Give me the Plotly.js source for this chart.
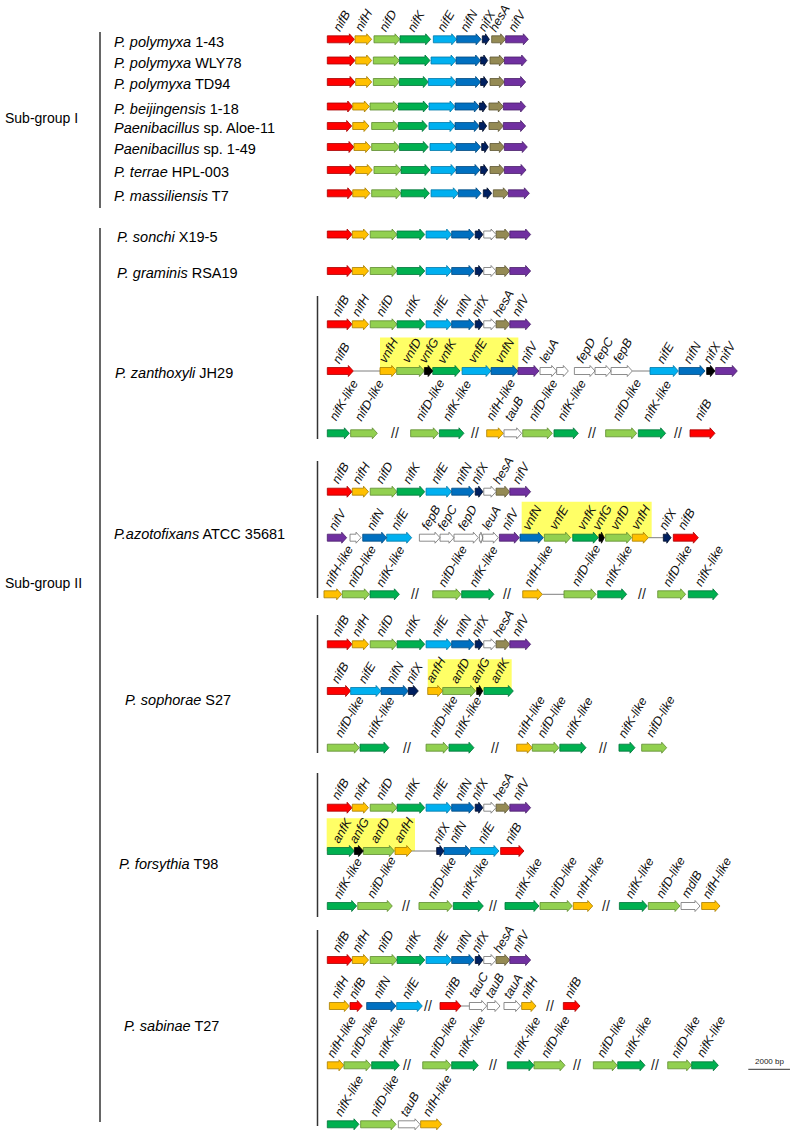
<!DOCTYPE html>
<html><head><meta charset="utf-8">
<script src="https://cdn.plot.ly/plotly-3.0.1.min.js"></script>
<style>html,body{margin:0;padding:0;background:#fff}</style>
</head><body><div id="chart" style="width:797px;height:1136px"></div>
<script>
// ---------------- DATA (gene coordinates in bp, relative to cluster start) ----------------
// Sub-group I: nifB nifH nifD nifK nifE nifN nifX hesA nifV
const SG1_GENES = ["nifB","nifH","nifD","nifK","nifE","nifN","nifX","hesA","nifV"];
const SG1_KINDS = "BHDKENXAV";
const POLY143_START = [0,1330,2240,3490,5090,6210,7440,7890,8560];
const POLY143_END   = [1300,2130,3490,4960,6210,7380,7780,8560,9650];
const WLY78_START = [0,1360,2210,3460,4980,6180,7360,7810,8500];
const WLY78_END   = [1330,2130,3460,4930,6180,7360,7700,8500,9570];
const TD94_START = [0,1360,2210,3460,4850,6180,7360,7810,8500];
const TD94_END   = [1330,2130,3460,4850,6180,7360,7700,8500,9520];
const BEIJ_START = [0,1220,2050,3410,4880,6130,7300,7760,8450];
const BEIJ_END   = [1220,2020,3410,4850,6130,7300,7650,8450,9520];
const ALOE_START = [0,1220,2130,3410,4880,6130,7300,7760,8450];
const ALOE_END   = [1170,2000,3410,4800,6130,7300,7650,8450,9520];
const SP149_START = [0,1280,2130,3460,4930,6180,7410,7810,8500];
const SP149_END   = [1280,2080,3460,4850,6180,7360,7730,8500,9600];
const TERRAE_START = [0,1360,2240,3540,4980,6180,7360,7810,8500];
const TERRAE_END   = [1330,2160,3540,4930,6180,7330,7700,8500,9540];
const MASS_START = [0,1220,2130,3540,4980,6290,7490,7970,8690];
const MASS_END   = [1220,2050,3540,4900,6290,7380,7890,8690,9700];

// Sub-group II conserved cluster (with unnamed ORF between nifX and hesA)
const SG2_GENES = ["nifB","nifH","nifD","nifK","nifE","nifN","nifX","","hesA","nifV"];
const SG2_KINDS = "BHDKENXWAV";
const SG2_START = [0,1200,2060,3350,4740,5970,7100,7510,8100,8760];
const SG2_END   = [1190,1980,3350,4680,5970,7040,7470,8100,8760,9760];

// P. zanthoxyli JH29
const ZAN2_GENES = ["nifB","vnfH","vnfD","vnfG","vnfK","vnfE","vnfN","nifV","leuA","","fepD","fepC","fepB","nifE","nifN","nifX","nifV"];
const ZAN2_KINDS = "BHDGKENVWWWWWENGV";
const ZAN2_START = [0,2530,3330,4660,5060,6470,7860,9150,10210,11010,11860,12850,13620,15490,16880,18210,18640];
const ZAN2_END   = [1250,3330,4660,5060,6370,7860,9150,10160,11010,11570,12850,13620,14640,16850,18130,18610,19680];
const ZAN2_LINKS = [[1250,2530],[14640,15490]];
const ZAN2_BOX = [2530,9170];
const ZAN3_GENES = ["nifK-like","nifD-like","nifD-like","nifK-like","nifH-like","tauB","nifD-like","nifK-like","nifD-like","nifK-like","nifB"];
const ZAN3_KINDS = "KDDKHWDKDKB";
const ZAN3_START = [0,1120,4000,5380,7650,8480,9380,10880,13360,14930,17410];
const ZAN3_END   = [1060,2400,5330,6560,8450,9330,10800,12050,14850,16240,18610];
const ZAN3_BREAKS = [3250,7090,12690,16850];

// P. azotofixans ATCC 35681
const AZO2_GENES = ["nifV","","nifN","nifE","fepB","fepC","fepD","","leuA","nifV","vnfN","vnfE","vnfK","vnfG","vnfD","vnfH","nifX","nifB"];
const AZO2_KINDS = "VWNEWWWWWVNDKGDHXB";
const AZO2_START = [0,1090,1700,2850,4420,5410,6080,7300,7460,8260,9250,10420,11780,13040,13360,14640,16130,16610];
const AZO2_END   = [930,1620,2850,4050,5410,6080,7250,7460,8210,9220,10370,11680,13010,13300,14610,15410,16500,17810];
const AZO2_LINKS = [[15410,16130]];
const AZO2_BOX = [9330,15570];
const AZO3_GENES = ["nifH-like","nifD-like","nifK-like","nifD-like","nifK-like","nifH-like","nifD-like","nifK-like","nifD-like","nifK-like"];
const AZO3_KINDS = "HDKDKHDKDK";
const AZO3_START = [-160,720,2050,5060,6450,9380,11360,12980,15860,17330];
const AZO3_END   = [690,2020,3460,6420,8000,10320,12900,14370,17200,18750];
const AZO3_BREAKS = [4210,8640,15090];
const AZO3_LINKS = [[10320,11360]];

// P. sophorae S27
const SOP2_GENES = ["nifB","nifE","nifN","nifX","anfH","anfD","anfG","anfK"];
const SOP2_KINDS = "BENXHDGK";
const SOP2_START = [0,1120,2580,3890,4820,5540,7170,7520];
const SOP2_END   = [1120,2580,3890,4370,5540,7120,7460,8930];
const SOP2_BOX = [4820,8850];
const SOP3_GENES = ["nifD-like","nifK-like","nifD-like","nifK-like","nifH-like","nifD-like","nifK-like","nifK-like","nifD-like"];
const SOP3_KINDS = "DKDKHDKKD";
const SOP3_START = [0,1570,4740,5840,9090,9840,11160,14000,15090];
const SOP3_END   = [1540,2960,5810,7040,9840,11120,12420,14770,16290];
const SOP3_BREAKS = [3810,8050,13250];

// P. forsythia T98
const FOR2_GENES = ["anfK","anfG","anfD","anfH","nifX","nifN","nifE","nifB"];
const FOR2_KINDS = "KGDHXNEB";
const FOR2_START = [0,1300,1730,3250,5250,5600,6880,8320];
const FOR2_END   = [1300,1730,3220,4050,5600,6880,8240,9440];
const FOR2_LINKS = [[4050,5250]];
const FOR2_BOX = [-30,4210];
const FOR3_GENES = ["nifK-like","nifD-like","nifD-like","nifK-like","nifK-like","nifD-like","nifH-like","nifK-like","nifD-like","mdlB","nifH-like"];
const FOR3_KINDS = "KDDKKDHKDWH";
const FOR3_START = [0,1460,4400,6050,8530,10210,11810,14020,15410,16980,17970];
const FOR3_END   = [1410,3120,6000,7490,10160,11760,12740,15360,16930,17890,18850];
const FOR3_BREAKS = [3780,7940,13380];

// P. sabinae T27
const SAB2_GENES = ["nifH","nifB","nifN","nifE","nifB","tauC","tauB","tauA","nifH","nifB"];
const SAB2_KINDS = "HBNEBWWWHB";
const SAB2_START = [100,1090,1890,3330,5410,6820,7680,8480,9330,11330];
const SAB2_END   = [1060,1680,3300,4560,6420,7650,8290,9280,10020,12130];
const SAB2_BREAKS = [4850,10690];
const SAB2_LINKS = [[6420,6820]];
const SAB3_GENES = ["nifH-like","nifD-like","nifK-like","nifD-like","nifK-like","nifK-like","nifD-like","nifD-like","nifK-like","nifD-like","nifK-like"];
const SAB3_KINDS = "HDKDKKDDKDK";
const SAB3_START = [0,800,2130,4580,5970,8640,9920,12770,13940,16340,17490];
const SAB3_END   = [800,2100,3460,5940,7250,9920,11410,13920,15250,17490,18770];
const SAB3_BREAKS = [3840,7940,11970,15730];
const SAB4_GENES = ["nifK-like","nifD-like","tauB","nifH-like"];
const SAB4_KINDS = "KDWH";
const SAB4_START = [0,1600,3410,4480];
const SAB4_END   = [1520,3300,4450,5490];

const SCALE_BP = 2000;
const SCALE_LABEL = "2000 bp";

const SPECIES = ["<i>P. polymyxa</i> 1-43","<i>P. polymyxa</i> WLY78","<i>P. polymyxa</i> TD94","<i>P. beijingensis</i> 1-18",
  "<i>Paenibacillus</i> sp. Aloe-11","<i>Paenibacillus</i> sp. 1-49","<i>P. terrae</i> HPL-003","<i>P. massiliensis</i> T7",
  "<i>P. sonchi</i> X19-5","<i>P. graminis</i> RSA19","<i>P. zanthoxyli</i> JH29","<i>P.azotofixans</i> ATCC 35681",
  "<i>P. sophorae</i> S27","<i>P. forsythia</i> T98","<i>P. sabinae</i> T27"];
const GROUPS = ["Sub-group I","Sub-group II"];

// ---------------- LAYOUT / STYLE ----------------
const W = 797, H = 1136;
const X0PX = 327.3, BP_PER_PX = 48;   // pixel origin of clusters and scale
const FILL = {B:'#ff0000',H:'#ffc000',D:'#92d050',K:'#00b050',E:'#00b0f0',N:'#0070c0',X:'#002060',A:'#948a54',V:'#7030a0',G:'#000000',W:'#ffffff'};
const EDGE = {B:'#a80000',H:'#a67c00',D:'#5e8c30',K:'#00733a',E:'#0078a8',N:'#004a80',X:'#000c28',A:'#5e5735',V:'#4a1f6b',G:'#000000',W:'#707070'};

function row(genes,kinds,start,end,y,opts){return Object.assign({genes,kinds,start,end,y,labels:false,gap:-1.5},opts||{});}
const rows = [
  row(SG1_GENES,SG1_KINDS,POLY143_START,POLY143_END,39.3,{labels:true}),
  row(SG1_GENES,SG1_KINDS,WLY78_START,WLY78_END,60.5),
  row(SG1_GENES,SG1_KINDS,TD94_START,TD94_END,82),
  row(SG1_GENES,SG1_KINDS,BEIJ_START,BEIJ_END,106.5),
  row(SG1_GENES,SG1_KINDS,ALOE_START,ALOE_END,126),
  row(SG1_GENES,SG1_KINDS,SP149_START,SP149_END,147),
  row(SG1_GENES,SG1_KINDS,TERRAE_START,TERRAE_END,170),
  row(SG1_GENES,SG1_KINDS,MASS_START,MASS_END,193.3),
  row(SG2_GENES,SG2_KINDS,SG2_START,SG2_END,234.5),
  row(SG2_GENES,SG2_KINDS,SG2_START,SG2_END,271),
  row(SG2_GENES,SG2_KINDS,SG2_START,SG2_END,324.3,{labels:true}),
  row(ZAN2_GENES,ZAN2_KINDS,ZAN2_START,ZAN2_END,371,{labels:true,links:ZAN2_LINKS,box:ZAN2_BOX,boxTop:337.5}),
  row(ZAN3_GENES,ZAN3_KINDS,ZAN3_START,ZAN3_END,433.3,{labels:true,gap:3,breaks:ZAN3_BREAKS}),
  row(SG2_GENES,SG2_KINDS,SG2_START,SG2_END,491.7,{labels:true}),
  row(AZO2_GENES,AZO2_KINDS,AZO2_START,AZO2_END,537.7,{labels:true,links:AZO2_LINKS,box:AZO2_BOX,boxTop:501.7}),
  row(AZO3_GENES,AZO3_KINDS,AZO3_START,AZO3_END,594.3,{labels:true,breaks:AZO3_BREAKS,links:AZO3_LINKS}),
  row(SG2_GENES,SG2_KINDS,SG2_START,SG2_END,644.3,{labels:true}),
  row(SOP2_GENES,SOP2_KINDS,SOP2_START,SOP2_END,691,{labels:true,box:SOP2_BOX,boxTop:659.3}),
  row(SOP3_GENES,SOP3_KINDS,SOP3_START,SOP3_END,747.7,{labels:true,gap:1,breaks:SOP3_BREAKS}),
  row(SG2_GENES,SG2_KINDS,SG2_START,SG2_END,807.7,{labels:true}),
  row(FOR2_GENES,FOR2_KINDS,FOR2_START,FOR2_END,851,{labels:true,links:FOR2_LINKS,box:FOR2_BOX,boxTop:818.3}),
  row(FOR3_GENES,FOR3_KINDS,FOR3_START,FOR3_END,906,{labels:true,breaks:FOR3_BREAKS}),
  row(SG2_GENES,SG2_KINDS,SG2_START,SG2_END,960,{labels:true}),
  row(SAB2_GENES,SAB2_KINDS,SAB2_START,SAB2_END,1006,{labels:true,breaks:SAB2_BREAKS,links:SAB2_LINKS}),
  row(SAB3_GENES,SAB3_KINDS,SAB3_START,SAB3_END,1065.3,{labels:true,breaks:SAB3_BREAKS}),
  row(SAB4_GENES,SAB4_KINDS,SAB4_START,SAB4_END,1124.3,{labels:true})
];
// species label positions (px)
const SPECIES_POS = [[112,41.5],[112,62.5],[112,84],[112,108.5],[112,128],[112,149],[112,172],[112,195.5],
  [115,236.5],[115,272.5],[113,372.7],[112,534],[123,700],[117,864],[122,1026]];
const GROUP_POS = [[3,118],[3,583]];
const OUTER_LINES = [[100,32,208],[100,228,1122]];
const INNER_LINES = [[317.5,296,439],[317.5,461,598],[317.5,615,753],[317.5,773,917],[317.5,930,1126]];
const SCALE_POS = {x:748.3,y:1069.3};

const BODY = 3.5, HEAD = 5.5, HEADLEN = 5*BP_PER_PX;
const px2bp = p => (p - X0PX) * BP_PER_PX;
const FONT = 'Arial, Liberation Sans, sans-serif';

// ---------------- BUILD ----------------
const traces = [];
const shapes = [];
const annotations = [];
const polys = {};
Object.keys(FILL).forEach(k => polys[k] = {x:[], y:[]});
const linkX = [], linkY = [];

rows.forEach(r => {
  if (r.box) {
    shapes.push({type:'rect', layer:'below', xref:'x', yref:'y', x0:r.box[0], x1:r.box[1], y0:r.boxTop, y1:r.y,
      fillcolor:'#ffff66', line:{width:0}});
  }
  (r.links||[]).forEach(l => { linkX.push(l[0], l[1], null); linkY.push(r.y, r.y, null); });
  r.genes.forEach((g,i) => {
    const s = r.start[i], e = r.end[i], k = r.kinds[i];
    const h = Math.min(HEADLEN, 0.55*(e-s));
    const y = r.y;
    const P = polys[k];
    P.x.push(s, e-h, e-h, e, e-h, e-h, s, s, null);
    P.y.push(y-BODY, y-BODY, y-HEAD, y, y+HEAD, y+BODY, y+BODY, y-BODY, null);
    if (r.labels && g) {
      annotations.push({x:(s+e)/2, y:y-HEAD-r.gap, xref:'x', yref:'y', text:'<i>'+g+'</i>', showarrow:false,
        textangle:-60, xanchor:'center', yanchor:'bottom', xshift: g.indexOf('-like')>=0 ? 6 : 1,
        font:{family:FONT, size:12.5, color:'#111'}, borderpad:0});
    }
  });
  (r.breaks||[]).forEach(b => {
    annotations.push({x:b, y:r.y, xref:'x', yref:'y', text:'//', showarrow:false, xanchor:'center', yanchor:'middle',
      font:{family:FONT, size:14, color:'#222'}});
  });
});

traces.push({type:'scatter', mode:'lines', x:linkX, y:linkY, line:{color:'#7f7f7f', width:1}, hoverinfo:'skip'});
Object.keys(polys).forEach(k => {
  if (!polys[k].x.length) return;
  traces.push({type:'scatter', mode:'lines', x:polys[k].x, y:polys[k].y, fill:'toself', fillcolor:FILL[k],
    line:{color:EDGE[k], width:0.8}, hoverinfo:'skip'});
});

// scale bar
const sb0 = px2bp(SCALE_POS.x);
traces.push({type:'scatter', mode:'lines', x:[sb0, sb0+SCALE_BP], y:[SCALE_POS.y, SCALE_POS.y], line:{color:'#333', width:1}, hoverinfo:'skip'});
annotations.push({x:sb0+SCALE_BP/2, y:SCALE_POS.y-1.5, xref:'x', yref:'y', text:SCALE_LABEL, showarrow:false, yanchor:'bottom',
  font:{family:FONT, size:8, color:'#222'}});

SPECIES.forEach((t,i) => {
  annotations.push({x:SPECIES_POS[i][0]/W, xref:'paper', y:SPECIES_POS[i][1], yref:'y', text:t, showarrow:false,
    xanchor:'left', yanchor:'middle', font:{family:FONT, size:14.5, color:'#000'}});
});
GROUPS.forEach((t,i) => {
  annotations.push({x:GROUP_POS[i][0]/W, xref:'paper', y:GROUP_POS[i][1], yref:'y', text:t, showarrow:false,
    xanchor:'left', yanchor:'middle', font:{family:FONT, size:14, color:'#000'}});
});
OUTER_LINES.concat(INNER_LINES).forEach(l => {
  shapes.push({type:'line', xref:'paper', yref:'y', x0:l[0]/W, x1:l[0]/W, y0:l[1], y1:l[2], line:{color:'#333', width:1.5}});
});

const layout = {
  width:W, height:H, margin:{l:0,r:0,t:0,b:0}, paper_bgcolor:'#fff', plot_bgcolor:'#fff', showlegend:false,
  xaxis:{range:[px2bp(0), px2bp(W)], visible:false, fixedrange:true},
  yaxis:{range:[H,0], visible:false, fixedrange:true},
  shapes, annotations
};
Plotly.newPlot('chart', traces, layout, {staticPlot:true, displayModeBar:false});
</script></body></html>
